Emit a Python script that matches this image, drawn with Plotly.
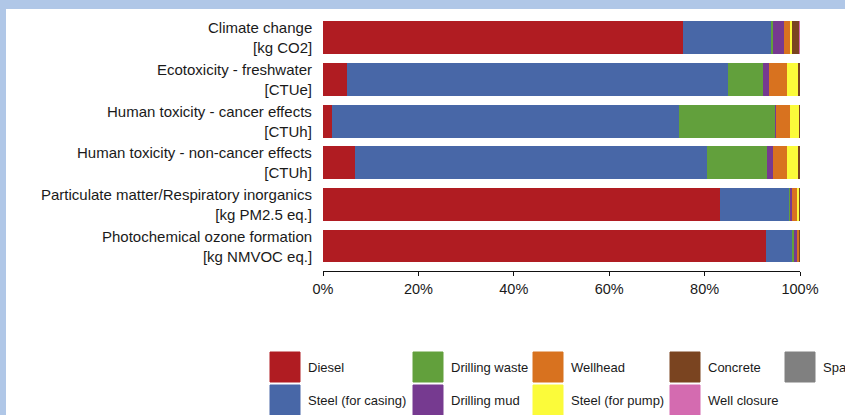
import plotly.graph_objects as go

# Impact categories (top to bottom) and their units
categories = [
    "Climate change",
    "Ecotoxicity - freshwater",
    "Human toxicity - cancer effects",
    "Human toxicity - non-cancer effects",
    "Particulate matter/Respiratory inorganics",
    "Photochemical ozone formation",
]
units = ["[kg CO2]", "[CTUe]", "[CTUh]", "[CTUh]", "[kg PM2.5 eq.]", "[kg NMVOC eq.]"]

# Contribution shares (%) per source, one value per impact category
diesel        = [75.4,  5.1,  1.8,  6.7, 83.2, 92.8]
steel_casing  = [18.7, 79.7, 72.8, 73.7, 14.7,  5.6]
drilling_waste = [0.3,  7.5, 20.2, 12.7,  0.1,  0.3]
drilling_mud  = [ 2.2,  1.3,  0.2,  1.2,  0.4,  0.6]
wellhead      = [ 1.2,  3.6,  2.8,  3.0,  0.9,  0.5]
steel_pump    = [ 0.6,  2.5,  2.0,  2.3,  0.5,  0.1]
concrete      = [ 1.4,  0.3,  0.2,  0.4,  0.2,  0.1]
well_closure  = [ 0.2,  0.0,  0.0,  0.0,  0.0,  0.0]
spare_parts   = [ 0.0,  0.0,  0.0,  0.0,  0.0,  0.0]

series_names = ["Diesel", "Steel (for casing)", "Drilling waste", "Drilling mud",
                "Wellhead", "Steel (for pump)", "Concrete", "Well closure", "Spare parts"]
series_values = [diesel, steel_casing, drilling_waste, drilling_mud,
                 wellhead, steel_pump, concrete, well_closure, spare_parts]
colors = ["#b01c22", "#4867a7", "#62a03c", "#763a90", "#d8721f",
          "#fbfb3a", "#7a4420", "#d46bb0", "#808080"]

x_ticks = [0, 20, 40, 60, 80, 100]
x_tick_labels = [f"{v}%" for v in x_ticks]

# Plot-area geometry in pixels (used to place the hand-drawn legend and frame)
W, H = 845, 415
PX0, PX1, PY0, PY1 = 323, 800, 17, 271


def px_x(px):
    return (px - PX0) / (PX1 - PX0)


def px_y(py):
    return (PY1 - py) / (PY1 - PY0)


fig = go.Figure()
for name, vals, col in zip(series_names, series_values, colors):
    fig.add_trace(go.Bar(
        y=categories, x=vals, name=name, orientation="h",
        marker=dict(color=col, line=dict(width=0)),
        showlegend=False,
    ))

font_family = "Liberation Sans, Arial, sans-serif"
txt_color = "#1a1a1a"

annotations = []
# Two-line category labels (name + unit), right-aligned next to the bars
for cat, unit in zip(categories, units):
    annotations.append(dict(
        x=0, xref="paper", y=cat, yref="y", text=f"{cat}<br>{unit}",
        showarrow=False, align="right",
        xanchor="right", yanchor="middle", xshift=-9, yshift=0,
        font=dict(family=font_family, size=15, color=txt_color),
    ))

shapes = []
# Light blue frame along the top and left edges
frame = "#b0c7e7"
shapes.append(dict(type="rect", xref="paper", yref="paper", layer="above",
                   x0=px_x(-5), x1=px_x(W + 5), y0=px_y(9), y1=px_y(-5),
                   fillcolor=frame, line=dict(width=0)))
shapes.append(dict(type="rect", xref="paper", yref="paper", layer="above",
                   x0=px_x(-5), x1=px_x(6), y0=px_y(H + 5), y1=px_y(-5),
                   fillcolor=frame, line=dict(width=0)))

# Legend: colour boxes in two rows, filled column by column
col_x = [270, 413, 533, 670, 785]
row_y = [352, 385]
box = 30
for i, (name, col) in enumerate(zip(series_names, colors)):
    bx = col_x[i // 2]
    by = row_y[i % 2]
    shapes.append(dict(type="rect", xref="paper", yref="paper", layer="above",
                       x0=px_x(bx), x1=px_x(bx + box), y0=px_y(by + box), y1=px_y(by),
                       fillcolor=col, line=dict(width=1, color=col)))
    annotations.append(dict(
        x=px_x(bx + 36), xref="paper", y=px_y(by + box / 2), yref="paper",
        text=name, showarrow=False, xanchor="left", yanchor="middle",
        font=dict(family=font_family, size=13, color=txt_color),
    ))

fig.update_layout(
    width=W, height=H,
    margin=dict(l=PX0, r=W - PX1, t=PY0, b=H - PY1, pad=0),
    barmode="stack", bargap=0.21,
    paper_bgcolor="white", plot_bgcolor="white",
    font=dict(family=font_family, color=txt_color),
    xaxis=dict(
        range=[0, 100], tickmode="array", tickvals=x_ticks, ticktext=x_tick_labels,
        showgrid=False, zeroline=False, showline=True, linecolor="#111111",
        linewidth=1.2, ticks="outside", ticklen=4, tickcolor="#111111",
        tickfont=dict(size=14.5, color=txt_color, family=font_family),
    ),
    yaxis=dict(
        type="category", categoryorder="array", categoryarray=categories,
        range=[5.6, -0.5], showticklabels=False, showgrid=False,
        zeroline=False, showline=False, ticks="",
    ),
    annotations=annotations,
    shapes=shapes,
)

fig.write_html("out.html")
